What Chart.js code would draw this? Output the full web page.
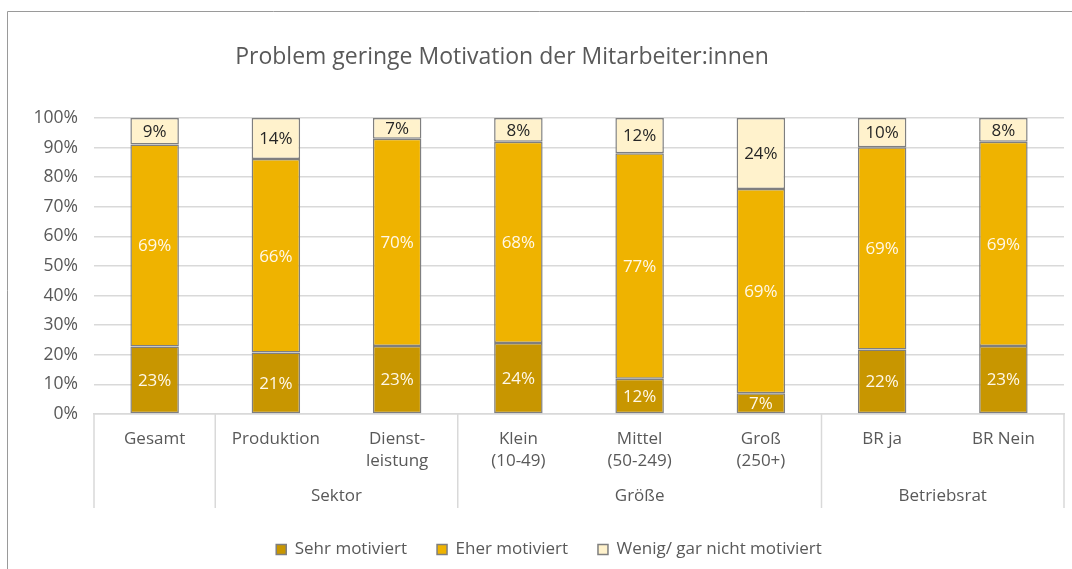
<!DOCTYPE html>
<html lang="de">
<head>
<meta charset="utf-8">
<title>Problem geringe Motivation der Mitarbeiter:innen</title>
<script src="https://cdn.jsdelivr.net/npm/chart.js@4.4.1/dist/chart.umd.min.js"></script>
<style>
  html, body { margin: 0; padding: 0; background: #fff; overflow: hidden; }
  #wrap { position: relative; width: 1072px; height: 569px; }
</style>
</head>
<body>
<div id="wrap"><canvas id="chart" width="1072" height="569"></canvas></div>
<script>
// --- Data ---
const chartTitle = 'Problem geringe Motivation der Mitarbeiter:innen';
const categories = ['Gesamt', 'Produktion', ['Dienst-', 'leistung'], ['Klein', '(10-49)'], ['Mittel', '(50-249)'], ['Groß', '(250+)'], 'BR ja', 'BR Nein'];
const groupLabels = ['', 'Sektor', 'Größe', 'Betriebsrat'];
const groupFrom = [0, 1, 3, 6];
const groupTo = [0, 2, 5, 7];
const seriesNames = ['Sehr motiviert', 'Eher motiviert', 'Wenig/ gar nicht motiviert'];
const sehrMotiviert = [23, 21, 23, 24, 12, 7, 22, 23];
const eherMotiviert = [69, 66, 70, 68, 77, 69, 69, 69];
const wenigMotiviert = [9, 14, 7, 8, 12, 24, 10, 8];

// --- Style ---
const FONT = '"Open Sans", sans-serif';
const TEXT_GREY = '#595959';
const LINE_GREY = '#d9d9d9';
const seriesColors = ['#c89600', '#efb300', '#fff2cc'];
const labelColors = ['#fff8e8', '#fff8e8', '#262626'];

// 100 % stacked: each column is scaled to its own total
const totals = sehrMotiviert.map((v, i) => v + eherMotiviert[i] + wenigMotiviert[i]);
const toShare = arr => arr.map((v, i) => v / totals[i] * 100);

const seriesValues = [sehrMotiviert, eherMotiviert, wenigMotiviert];

const datasets = seriesValues.map((values, k) => ({
    label: seriesNames[k],
    data: toShare(values),
    labelsShown: values,
    labelColor: labelColors[k],
    backgroundColor: seriesColors[k],
    borderColor: '#7f7f7f',
    borderWidth: 1.5,
    borderSkipped: false,
    barPercentage: 0.4,
    categoryPercentage: 1.0
}));

// --- Plugins ---
const frameAndTitle = {
    id: 'frameAndTitle',
    beforeDraw(chart) {
        const ctx = chart.ctx;
        ctx.save();
        ctx.strokeStyle = '#9a9a9a';
        ctx.lineWidth = 1;
        ctx.beginPath();
        ctx.moveTo(7.5, 569);
        ctx.lineTo(7.5, 11.5);
        ctx.lineTo(1072, 11.5);
        ctx.stroke();

        ctx.fillStyle = TEXT_GREY;
        ctx.font = '23px ' + FONT;
        ctx.textAlign = 'center';
        ctx.textBaseline = 'middle';
        ctx.fillText(chartTitle, 502, 57);
        ctx.restore();
    },
    afterLayout(chart) {
        // legend sits a little right of the canvas centre
        chart.legend.left += 17;
        chart.legend.right += 17;
    }
};

const segmentLabels = {
    id: 'segmentLabels',
    afterDatasetsDraw(chart) {
        const ctx = chart.ctx;
        ctx.save();
        ctx.font = '17px ' + FONT;
        ctx.textAlign = 'center';
        ctx.textBaseline = 'middle';
        chart.data.datasets.forEach((ds, di) => {
            const meta = chart.getDatasetMeta(di);
            ctx.fillStyle = ds.labelColor;
            meta.data.forEach((bar, i) => {
                ctx.fillText(ds.labelsShown[i] + '%', bar.x, (bar.y + bar.base) / 2 + 1);
            });
        });
        ctx.restore();
    }
};

const groupAxis = {
    id: 'groupAxis',
    afterDraw(chart) {
        const x = chart.scales.x;
        const ctx = chart.ctx;
        const half = (x.getPixelForValue(1) - x.getPixelForValue(0)) / 2;
        const top = chart.chartArea.bottom;
        const bottom = top + 94;
        ctx.save();
        ctx.strokeStyle = LINE_GREY;
        ctx.lineWidth = 1.5;
        ctx.fillStyle = TEXT_GREY;
        ctx.font = '17px ' + FONT;
        ctx.textAlign = 'center';
        ctx.textBaseline = 'middle';
        groupLabels.forEach((label, g) => {
            const left = x.getPixelForValue(groupFrom[g]) - half;
            const right = x.getPixelForValue(groupTo[g]) + half;
            ctx.beginPath();
            ctx.moveTo(left, top);
            ctx.lineTo(left, bottom);
            if (g === groupLabels.length - 1) {
                ctx.moveTo(right, top);
                ctx.lineTo(right, bottom);
            }
            ctx.stroke();
            if (label) ctx.fillText(label, (left + right) / 2, top + 82);
        });
        ctx.restore();
    }
};

// --- Chart ---
new Chart(document.getElementById('chart'), {
    type: 'bar',
    data: { labels: categories, datasets: datasets },
    options: {
        responsive: false,
        animation: false,
        devicePixelRatio: 1,
        layout: { padding: { left: 0, right: 8, top: 118, bottom: 1 } },
        scales: {
            x: {
                stacked: true,
                grid: { display: false, drawTicks: false },
                border: { display: true, color: LINE_GREY, width: 1.5 },
                ticks: {
                    color: TEXT_GREY,
                    font: { size: 17, family: FONT, lineHeight: 1.31 },
                    padding: 14,
                    maxRotation: 0,
                    autoSkip: false
                },
                afterFit: (scale) => { scale.height = 97; }
            },
            y: {
                stacked: true,
                min: 0,
                max: 100,
                ticks: {
                    stepSize: 10,
                    callback: (v) => v + '%',
                    color: TEXT_GREY,
                    font: { size: 17.5, family: FONT },
                    padding: 16
                },
                grid: { color: LINE_GREY, lineWidth: 1.5, drawTicks: false },
                border: { display: false },
                afterFit: (scale) => { scale.width = 94; }
            }
        },
        plugins: {
            legend: {
                position: 'bottom',
                labels: {
                    color: TEXT_GREY,
                    font: { size: 17, family: FONT },
                    boxWidth: 10,
                    boxHeight: 10,
                    padding: 30
                }
            },
            tooltip: { enabled: false }
        }
    },
    plugins: [frameAndTitle, segmentLabels, groupAxis]
});
</script>
</body>
</html>
